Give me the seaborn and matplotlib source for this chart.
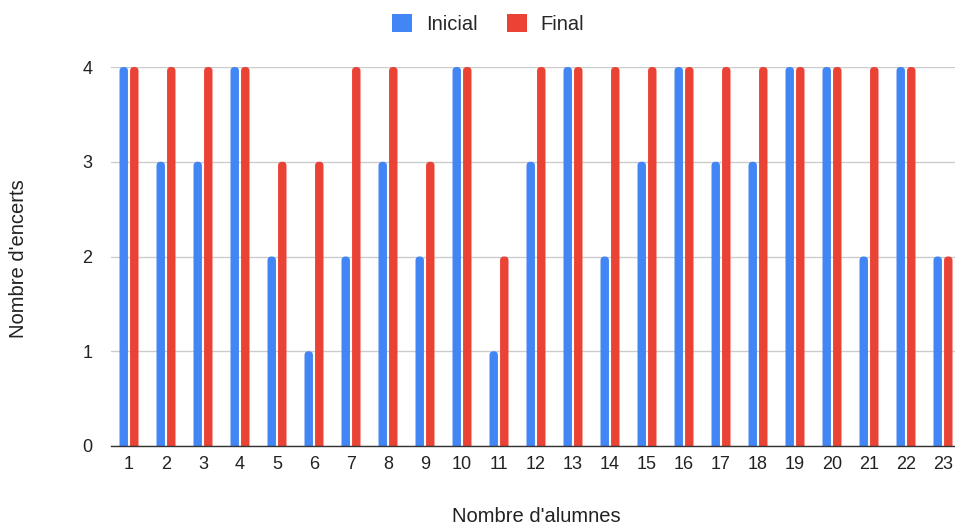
import matplotlib
matplotlib.use("Agg")
import seaborn as sns
import matplotlib.pyplot as plt
import pandas as pd
from matplotlib.patches import Patch, FancyBboxPatch

# data
alumnes = list(range(1, 24))
inicial = [4, 3, 3, 4, 2, 1, 2, 3, 2, 4, 1, 3, 4, 2, 3, 4, 3, 3, 4, 4, 2, 4, 2]
final = [4, 4, 4, 4, 3, 3, 4, 4, 3, 4, 2, 4, 4, 4, 4, 4, 4, 4, 4, 4, 4, 4, 2]
series = ["Inicial", "Final"]
colors = ["#4285F4", "#EA4335"]

df = pd.DataFrame({
    "alumne": alumnes * 2,
    "encerts": inicial + final,
    "serie": [series[0]] * len(alumnes) + [series[1]] * len(alumnes),
})

sns.set_theme(style="white")
plt.rcParams['font.family'] = ['Liberation Sans', 'DejaVu Sans']
fs_tick = 13
fs_title = 14.5

fig = plt.figure(figsize=(9.55, 5.27), dpi=100)
ax = fig.add_axes([110.5 / 955, 81 / 527, 851 / 955, 379 / 527])

sns.barplot(data=df, x="alumne", y="encerts", hue="serie", hue_order=series,
            palette=colors, width=0.57, gap=0.2, ax=ax, legend=False,
            linewidth=0, saturation=1)

# swap the square bars for ones with rounded tops
px_x = 851 / 23.0
px_y = 379 / 4.0
for p in list(ax.patches):
    x0, w, h = p.get_x(), p.get_width(), p.get_height()
    if h <= 0:
        continue
    r = 4.0 / px_x
    fb = FancyBboxPatch((x0, -0.2), w, h + 0.2,
                        boxstyle=f"round,pad=0,rounding_size={r}",
                        mutation_aspect=px_x / px_y,
                        facecolor=p.get_facecolor(), edgecolor="none",
                        clip_on=True, zorder=2)
    ax.add_patch(fb)
    p.remove()

ax.set_ylim(0, 4)
ax.set_xlim(-0.5, 22.5)
ax.set_yticks([0, 1, 2, 3, 4])
ax.set_xlabel("")
ax.set_ylabel("")
ax.yaxis.grid(True, color="#cccccc", linewidth=1)
ax.set_axisbelow(True)
for s in ["top", "right", "left"]:
    ax.spines[s].set_visible(False)
ax.spines["bottom"].set_color("#333333")
ax.spines["bottom"].set_linewidth(1)
ax.spines["bottom"].set_zorder(3)
ax.tick_params(axis="both", length=0, labelsize=fs_tick, colors="#222222", pad=7)
ax.tick_params(axis="y", pad=13)

fig.text(18 / 955, 1 - 259 / 527, "Nombre d'encerts", rotation=90,
         ha="center", va="center", fontsize=fs_title, color="#222222")
fig.text(536 / 955, 1 - 516 / 527, "Nombre d'alumnes",
         ha="center", va="center", fontsize=fs_title, color="#222222")

# legend
handles = [Patch(facecolor=c, edgecolor="none") for c in colors]
fig.legend(handles, series, loc="center", bbox_to_anchor=(488 / 955, 1 - 24 / 527),
           ncol=2, frameon=False, fontsize=fs_title, handlelength=1.0, handleheight=1.0,
           columnspacing=1.45, handletextpad=0.7)

fig.savefig("out.png", dpi=100)
